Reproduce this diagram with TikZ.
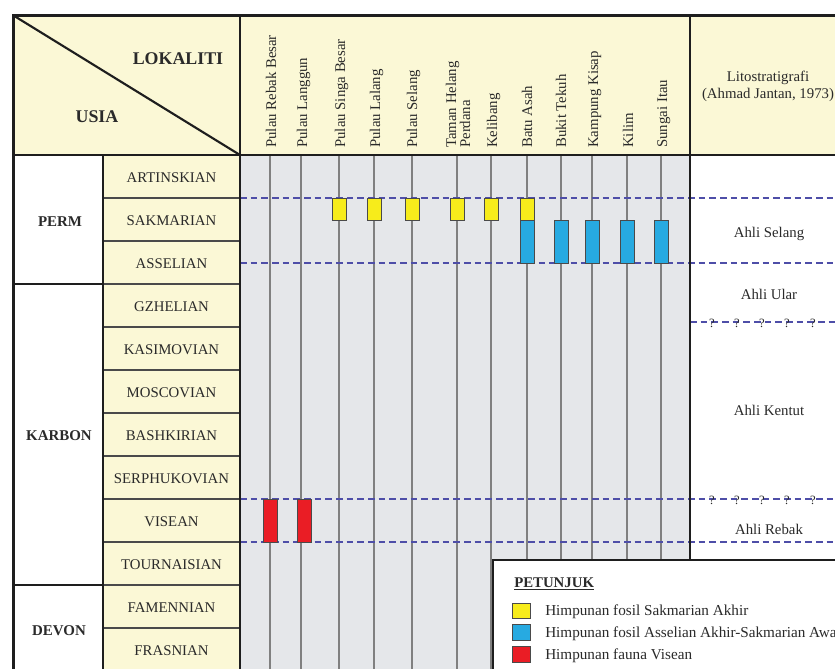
\documentclass[tikz,border=0pt]{standalone}
\usepackage{fontspec}
\setmainfont{Liberation Serif}
\definecolor{hdr}{HTML}{FBF8D6}
\definecolor{gridbg}{HTML}{E5E7EA}
\definecolor{frm}{HTML}{1E1E1E}
\definecolor{sepc}{HTML}{4A4A4A}
\definecolor{vline}{HTML}{808080}
\definecolor{dashc}{HTML}{4E4EA8}
\definecolor{yel}{HTML}{F7EC1B}
\definecolor{blu}{HTML}{27AAE1}
\definecolor{rd}{HTML}{EA1D25}
\definecolor{ink}{HTML}{2A2A2A}
\begin{document}
\begin{tikzpicture}[x=0.75pt,y=-0.75pt,
  tx/.style={inner sep=0pt, text=ink, font=\fontsize{11.1}{13}\selectfont},
  loc/.style={tx, rotate=90, anchor=base west},
  stg/.style={tx, anchor=base},
  per/.style={tx, anchor=base, font=\fontsize{11.2}{13}\selectfont\bfseries},
  hd/.style={tx, anchor=base, font=\fontsize{13.4}{15}\selectfont\bfseries},
  lit/.style={tx, anchor=base},
  leg/.style={tx, anchor=base west, font=\fontsize{11.4}{13}\selectfont},
  qm/.style={inner sep=0pt, text=ink, font=\fontsize{9.5}{10}\selectfont},
  strat/.style={dashc, line width=0.9pt, dash pattern=on 5pt off 3pt},
  fos/.style={draw=sepc, line width=0.7pt},
  thickframe/.style={frm, line width=2.3pt},
  midframe/.style={frm, line width=1.6pt},
  rowsep/.style={sepc, line width=0.8pt},
  locline/.style={vline, line width=0.9pt}
]
\useasboundingbox (0,0) rectangle (835,668);
\clip (0,0) rectangle (835,668);
\fill[white] (0,0) rectangle (835,668);
% fills
\fill[hdr] (13.5,15.5) rectangle (860,155);
\fill[hdr] (103,155) rectangle (240,690);
\fill[gridbg] (240,155) rectangle (690,690);
% locality lines
\foreach \x in {270,301,339,374,412,457,491,527,561,592,627,661}
  \draw[locline] (\x,155) -- (\x,690);
% stratigraphic dashed lines
\draw[strat] (240,198) -- (860,198);
\draw[strat] (240,263) -- (860,263);
\draw[strat] (690,322) -- (860,322);
\draw[strat] (240,499) -- (860,499);
\draw[strat] (240,542) -- (860,542);
% fossil boxes
\foreach \x in {339,374,412,457,491,527}
  \draw[fos, fill=yel] (\x-7,198) rectangle (\x+7,220);
\foreach \x in {527,561,592,627,661}
  \draw[fos, fill=blu] (\x-7,220) rectangle (\x+7,263);
\draw[fos, fill=rd] (263,499) rectangle (277,542);
\draw[fos, fill=rd] (297,499) rectangle (311,542);
% row separators
\foreach \y in {198,241,284,327,370,413,456,499,542,585,628}
  \draw[rowsep] (103,\y) -- (240,\y);
\draw[midframe] (13.5,284) -- (103,284);
\draw[midframe] (13.5,585) -- (103,585);
% frame lines
\draw[midframe] (103,155) -- (103,690);
\draw[midframe] (240,15.5) -- (240,690);
\draw[midframe] (690,15.5) -- (690,560);
\draw[midframe] (13.5,155) -- (860,155);
\draw[midframe] (13.5,15.5) -- (240,155);
\draw[thickframe] (13.5,690) -- (13.5,15.5) -- (860,15.5);
% question marks
\foreach \x [count=\i] in {712,737,762,787,813} {
  \node[qm] (qa\i) at (\x,323) {?};
  \node[qm] (qb\i) at (\x,500) {?};
}
% header texts
\node[hd] (lokaliti) at (178,64) {LOKALITI};
\node[hd] (usia) at (97,122) {USIA};
\node[loc] (l1) at (276,148) {Pulau Rebak Besar};
\node[loc] (l2) at (307,148) {Pulau Langgun};
\node[loc] (l3) at (345,148) {Pulau Singa Besar};
\node[loc] (l4) at (380,148) {Pulau Lalang};
\node[loc] (l5) at (417,148) {Pulau Selang};
\node[loc] (l6a) at (456,148) {Taman Helang};
\node[loc] (l6b) at (470,148) {Perdana};
\node[loc] (l7) at (497,148) {Kelibang};
\node[loc] (l8) at (532,148) {Batu Asah};
\node[loc] (l9) at (566,148) {Bukit Tekuh};
\node[loc] (l10) at (598,148) {Kampung Kisap};
\node[loc] (l11) at (633,148) {Kilim};
\node[loc] (l12) at (667,148) {Sungai Itau};
\node[lit] (lito1) at (768,81) {Litostratigrafi};
\node[lit] (lito2) at (768,98) {(Ahmad Jantan, 1973)};
% stages
\foreach \s [count=\i from 0] in {ARTINSKIAN,SAKMARIAN,ASSELIAN,GZHELIAN,KASIMOVIAN,MOSCOVIAN,BASHKIRIAN,SERPHUKOVIAN,VISEAN,TOURNAISIAN,FAMENNIAN,FRASNIAN}
  \node[stg] (st\i) at (171.5,{155+43*\i+21.5+6}) {\s};
% periods
\node[per] (perm) at (60,226) {PERM};
\node[per] (karbon) at (59,440) {KARBON};
\node[per] (devon) at (59,635) {DEVON};
% formations
\node[lit] (selang) at (769,237) {Ahli Selang};
\node[lit] (ular) at (769,299.5) {Ahli Ular};
\node[lit] (kentut) at (769,415) {Ahli Kentut};
\node[lit] (rebak) at (769,534) {Ahli Rebak};
% legend
\draw[frm, line width=2pt, fill=white] (493,560) rectangle (870,700);
\node[tx, anchor=base west, font=\fontsize{11.1}{13}\selectfont\bfseries] (petunjuk) at (514,587) {\underline{PETUNJUK}};
\draw[fos, fill=yel] (512,603) rectangle (530,618);
\draw[fos, fill=blu] (512,624) rectangle (530,640);
\draw[fos, fill=rd] (512,646) rectangle (530,662);
\node[leg] (leg1) at (545,615) {Himpunan fosil Sakmarian Akhir};
\node[leg] (leg2) at (545,637) {Himpunan fosil Asselian Akhir-Sakmarian Awal};
\node[leg] (leg3) at (545,659) {Himpunan fauna Visean};
\end{tikzpicture}
\end{document}
